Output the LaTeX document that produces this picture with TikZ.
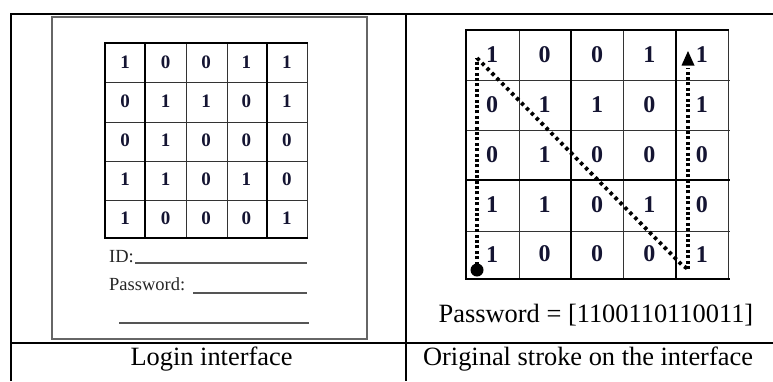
\documentclass[tikz,border=0pt]{standalone}
\usepackage{fontspec}
\setmainfont{Liberation Serif}
\usetikzlibrary{arrows.meta}
\definecolor{digit}{RGB}{20,20,50}
\definecolor{formgray}{RGB}{85,85,85}
\begin{document}
\begin{tikzpicture}[x=1pt,y=-1pt,
  tabline/.style={line width=1.6pt,black},
  thickg/.style={line width=2.4pt,black},
  thing/.style={line width=1pt,black!80},
  ldigit/.style={font=\fontsize{19}{19}\selectfont\bfseries,text=digit,inner sep=0pt},
  rdigit/.style={font=\fontsize{24}{24}\selectfont\bfseries,text=digit,inner sep=0pt},
  caption/.style={font=\fontsize{26.4}{26.4}\selectfont,anchor=base,inner sep=0pt},
  formtext/.style={font=\fontsize{18.5}{18.5}\selectfont,text=black!85,anchor=base west,inner sep=0pt},
  formline/.style={line width=1.3pt,formgray},
  stroke/.style={line width=3.6pt,dash pattern=on 3pt off 2.4pt},
  diagstroke/.style={line width=3.8pt,dash pattern=on 3.4pt off 3.6pt}]
\useasboundingbox (0,0) rectangle (773,381);
% outer table
\draw[tabline] (11,381) -- (11,14) -- (773,14);
\draw[tabline] (406,14) -- (406,381);
\draw[tabline] (11,343) -- (773,343);
% login form box
\draw[line width=1.4pt,black!60] (52,17) rectangle (367,339);
% left grid
\foreach \y in {82,122,161,200} \draw[thing] (105,\y) -- (307,\y);
\foreach \x in {186,227,307} \draw[thing] (\x,43) -- (\x,238);
\foreach \x in {105,145,267} \draw[thickg] (\x,43) -- (\x,238);
\draw[thickg] (104,43) -- (308,43);
\draw[thickg] (104,238) -- (308,238);
\foreach \vals [count=\r] in {{1,0,0,1,1},{0,1,1,0,1},{0,1,0,0,0},{1,1,0,1,0},{1,0,0,0,1}}
  \foreach \v [count=\c] in \vals
    \node[ldigit] (L-\r-\c) at ({105+(\c-0.5)*40.4},{43+(\r-0.5)*39}) {\v};
% form fields
\node[formtext] (idlabel) at (109,262) {ID:};
\draw[formline] (135,263) -- (307,263);
\node[formtext] (pwlabel) at (109,290) {Password:};
\draw[formline] (193,293) -- (307,293);
\draw[formline] (119,323) -- (309,323);
% right grid
\foreach \y in {80,130,231} \draw[thing] (466,\y) -- (730,\y);
\foreach \x in {519,623,728} \draw[thing] (\x,30) -- (\x,279);
\foreach \x in {466,571,676} \draw[line width=2pt] (\x,30) -- (\x,279);
\draw[line width=2pt] (465,180) -- (730,180);
\draw[line width=1.8pt] (465,30) -- (729,30);
\draw[line width=2.2pt] (465,279) -- (730,279);
\foreach \vals [count=\r] in {{1,0,0,1,1},{0,1,1,0,1},{0,1,0,0,0},{1,1,0,1,0},{1,0,0,0,1}}
  \foreach \v [count=\c] in \vals
    \node[rdigit] (R-\r-\c) at ({466+(\c-0.5)*52.4},{30+(\r-0.5)*49.8}) {\v};
% stroke path
\coordinate (s0) at (477,270);
\coordinate (s1) at (477,58);
\coordinate (s2) at (682,265);
\coordinate (s3) at (688,269);
\coordinate (s4) at (688,68);
\coordinate (tip) at (688,51);
\fill (s0) circle (6.5);
\draw[stroke] (s0) -- (s1);
\draw[diagstroke] (s1) -- (s2) -- (s3);
\draw[stroke] (s3) -- (s4);
\fill (tip) -- (694.5,65.5) -- (681.5,65.5) -- cycle;
% captions
\node[caption] (pw) at (596,322) {Password = [1100110110011]};
\node[caption] (cap1) at (211.5,365) {Login interface};
\node[caption] (cap2) at (588,365) {Original stroke on the interface};
\end{tikzpicture}
\end{document}
